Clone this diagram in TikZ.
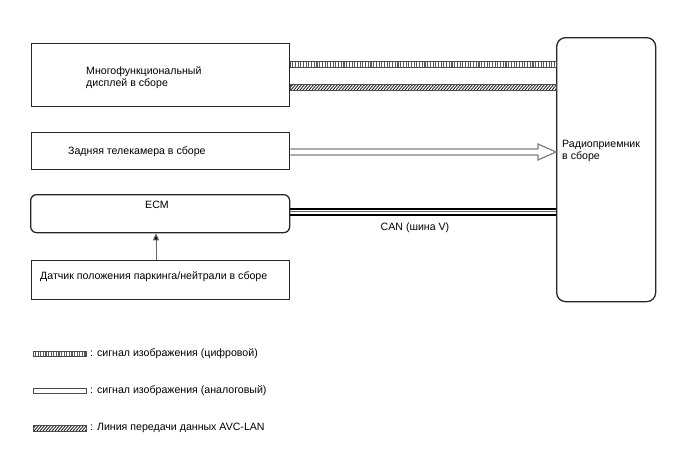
\documentclass[tikz,border=0pt]{standalone}
\usepackage{fontspec}
\setmainfont{Liberation Sans}
\usetikzlibrary{arrows.meta}
\begin{document}
\begin{tikzpicture}[x=1pt,y=-1pt,
  box/.style={draw=black!85,line width=1.3pt,anchor=north west,inner sep=0pt},
  txt/.style={font=\fontsize{10.6}{12}\selectfont,inner sep=0pt,anchor=west,align=left},
  sig/.style={line width=1.2pt,draw=black!50},
  stripe/.style={line width=1.1pt,draw=black!65}]
\useasboundingbox (0,0) rectangle (688,463);
% boxes
\node[box,minimum width=258,minimum height=63] (mfd) at (31,43) {};
\node[box,minimum width=258,minimum height=37] (cam) at (31,132) {};
\node[box,rounded corners=6,minimum width=259,minimum height=38] (ecm) at (30,194) {};
\node[box,minimum width=258,minimum height=39] (sen) at (31,260) {};
\node[box,rounded corners=9,minimum width=99,minimum height=264] (rad) at (556,37) {};
% texts
\node[txt] (mfdt) at (86,78) {Многофункциональный\\дисплей в сборе};
\node[txt] (camt) at (68,152) {Задняя телекамера в сборе};
\node[txt,anchor=center] (ecmt) at (157,205) {ECM};
\node[txt] (sent) at (40,277) {Датчик положения паркинга/нейтрали в сборе};
\node[txt] (radt) at (562,151) {Радиоприемник\\в сборе};
% digital video line
\coordinate (d1) at (mfd.east |- 0,61);
\coordinate (d2) at (rad.west |- 0,67);
\fill[white] (d1) rectangle (d2);
\begin{scope}
\clip (d1) rectangle (d2);
\foreach \x in {290,292.7,...,556} \draw[stripe] (\x,60)--(\x,68);
\end{scope}
\draw[line width=0.8pt,black!70] (d1) rectangle (d2);
% AVC-LAN line
\coordinate (a1) at (mfd.east |- 0,84);
\coordinate (a2) at (rad.west |- 0,90);
\begin{scope}
\clip (a1) rectangle (a2);
\foreach \x in {285,288,...,560} \draw[line width=0.9pt,black!85] (\x,90)--(\x+5,84);
\end{scope}
\draw[line width=0.8pt,black!70] (a1) rectangle (a2);
% analog video arrow
\coordinate (v1) at (cam.east |- 0,149);
\coordinate (v2) at (cam.east |- 0,155);
\coordinate (vt) at (rad.west |- 0,152);
\draw[sig,line join=miter] (v1) -- (538,149) -- (538,144) -- (vt) -- (538,160) -- (538,155) -- (v2);
% CAN
\draw[line width=2pt,black] (ecm.east |- 0,209.2) -- (rad.west |- 0,209.2);
\draw[line width=0.8pt,black!60] (ecm.east |- 0,211.8) -- (rad.west |- 0,211.8);
\draw[line width=1.4pt,black] (ecm.east |- 0,214.8) -- (rad.west |- 0,214.8);
\node[txt,anchor=center] (canl) at (415,228) {CAN (шина V)};
% sensor -> ECM
\draw[line width=1pt,black!60,-{Triangle[length=7pt,width=6pt,fill=black]}] (sen.north -| 156,0) -- (ecm.south -| 156,0);
% legend
\coordinate (l1a) at (33,351);
\coordinate (l1b) at (86,356);
\fill[white] (l1a) rectangle (l1b);
\begin{scope}
\clip (l1a) rectangle (l1b);
\foreach \x in {33,35.6,...,87} \draw[stripe] (\x,350)--(\x,357);
\end{scope}
\draw[line width=0.8pt,black!70] (l1a) rectangle (l1b);
\node[txt] (lt1) at (90,354) {: сигнал изображения (цифровой)};
\draw[line width=0.9pt,black!70] (33,388) rectangle (86,393);
\node[txt] (lt2) at (90,391) {: сигнал изображения (аналоговый)};
\coordinate (l3a) at (33,425);
\coordinate (l3b) at (86,431);
\begin{scope}
\clip (l3a) rectangle (l3b);
\foreach \x in {28,31,...,90} \draw[line width=0.9pt,black!85] (\x,431)--(\x+5,425);
\end{scope}
\draw[line width=0.8pt,black!70] (l3a) rectangle (l3b);
\node[txt] (lt3) at (90,428) {: Линия передачи данных AVC-LAN};
\end{tikzpicture}
\end{document}
